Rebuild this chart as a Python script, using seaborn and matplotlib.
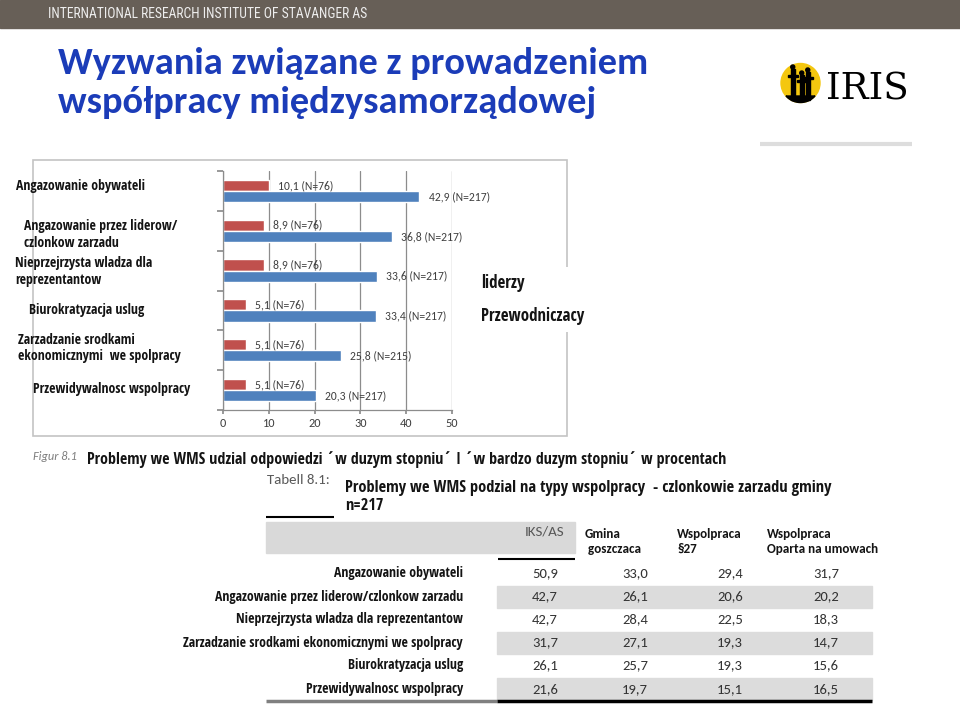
import numpy as np
import pandas as pd
import matplotlib
matplotlib.use('Agg')
import matplotlib.pyplot as plt
from matplotlib import font_manager as fm
from matplotlib.patches import Rectangle, Circle, Polygon
import seaborn as sns

# ---------------- data ----------------
chart_categories = [
    'Angazowanie obywateli',
    'Angazowanie przez liderow/czlonkow zarzadu',
    'Nieprzejrzysta wladza dla reprezentantow',
    'Biurokratyzacja uslug',
    'Zarzadzanie srodkami ekonomicznymi we spolpracy',
    'Przewidywalnosc wspolpracy',
]
chart_label_text = [
    'Angazowanie obywateli',
    'Angazowanie przez liderow/\nczlonkow zarzadu',
    'Nieprzejrzysta wladza dla\nreprezentantow',
    'Biurokratyzacja uslug',
    'Zarzadzanie srodkami\nekonomicznymi  we spolpracy',
    'Przewidywalnosc wspolpracy',
]
przewodniczacy_pct = [10.1, 8.9, 8.9, 5.1, 5.1, 5.1]
przewodniczacy_n = [76, 76, 76, 76, 76, 76]
liderzy_pct = [42.9, 36.8, 33.6, 33.4, 25.8, 20.3]
liderzy_n = [217, 217, 217, 217, 215, 217]
series_names = ['Przewodniczacy', 'liderzy']
legend_labels = ['liderzy', 'Przewodniczacy']
x_ticks = [0, 10, 20, 30, 40, 50]

table_rows = [
    'Angazowanie obywateli',
    'Angazowanie przez liderow/czlonkow zarzadu',
    'Nieprzejrzysta wladza dla reprezentantow',
    'Zarzadzanie srodkami ekonomicznymi we spolpracy',
    'Biurokratyzacja uslug',
    'Przewidywalnosc wspolpracy',
]
table_header_first = 'IKS/AS'
table_headers = [('Gmina', ' goszczaca'), ('Wspolpraca', '§27'), ('Wspolpraca', 'Oparta na umowach')]
col_iks_as = [50.9, 42.7, 42.7, 31.7, 26.1, 21.6]
col_gmina = [33.0, 26.1, 28.4, 27.1, 25.7, 19.7]
col_par27 = [29.4, 20.6, 22.5, 19.3, 19.3, 15.1]
col_umowy = [31.7, 20.2, 18.3, 14.7, 15.6, 16.5]

header_text = 'INTERNATIONAL RESEARCH INSTITUTE OF STAVANGER AS'
title_lines = ['Wyzwania związane z prowadzeniem', 'współpracy międzysamorządowej']
figure_tag = 'Figur 8.1'
figure_caption = 'Problemy we WMS udzial odpowiedzi \u00b4w duzym stopniu\u00b4 I \u00b4w bardzo duzym stopniu\u00b4 w procentach'
table_tag = 'Tabell 8.1:'
table_title = ['Problemy we WMS podzial na typy wspolpracy  - czlonkowie zarzadu gminy', 'n=217']


def fmt(v):
    return f'{v:.1f}'.replace('.', ',')


# ---------------- style ----------------
sns.set_theme(style='white')
names = {f.name for f in fm.fontManager.ttflist}


def pick(*cands):
    for c in cands:
        if c in names:
            return c
    return 'DejaVu Sans'


SANS = pick('Carlito', 'Lato', 'Open Sans')
SQZ = pick('Open Sans Condensed', 'Fira Sans Condensed', 'Roboto Condensed', 'Carlito')
COND = pick('Roboto Condensed', 'Liberation Sans Narrow', 'Roboto')
SERIF = pick('DejaVu Serif', 'Liberation Serif')
plt.rcParams['font.family'] = [SANS, 'DejaVu Sans']

RED = '#c0504d'
BLUE = '#4f81bd'
TITLE_BLUE = '#1b3cb8'
INK = '#141414'

W, H = 960, 704
fig = plt.figure(figsize=(9.6, 7.04), dpi=100)
fig.patch.set_facecolor('white')
bg = fig.add_axes([0, 0, 1, 1], zorder=0)
bg.set_xlim(0, W)
bg.set_ylim(H, 0)
bg.axis('off')
renderer = fig.canvas.get_renderer()


def fit_size(s, width, size=10, family=None, **kw):
    t = bg.text(0, 0, s, fontsize=size, family=[family or SANS, 'DejaVu Sans'], **kw)
    bb = t.get_window_extent(renderer)
    t.remove()
    return size * width / bb.width


def txt(x, y, s, size=10, family=None, width=None, **kw):
    fam = [family or SANS, 'DejaVu Sans']
    if width:
        size = fit_size(s, width, size, family, **{k: v for k, v in kw.items() if k in ('weight', 'style')})
    return bg.text(x, y, s, fontsize=size, family=fam, **kw)


# ---------------- header ----------------
bg.add_patch(Rectangle((0, 0), W, 28, color='#675f57', zorder=1))
txt(48, 14.5, header_text, family=COND, width=319, color='#eeeeee', va='center', zorder=2)

ts = fit_size(title_lines[0], 589, weight='bold')
txt(58, 74, title_lines[0], size=ts, weight='bold', color=TITLE_BLUE, va='baseline')
txt(58, 113, title_lines[1], size=ts, weight='bold', color=TITLE_BLUE, va='baseline')

# IRIS logo
cx, cy, r = 800.5, 83, 19.5
bg.add_patch(Circle((cx, cy), r, color='#f4c70f', zorder=2))
th = np.linspace(np.arcsin(13 / r), np.pi - np.arcsin(13 / r), 40)
bg.add_patch(Polygon(np.c_[cx + r * np.cos(th), cy + r * np.sin(th)], closed=True, color='black', zorder=3))
for bx, top, gy in [(791, 69, 75), (800, 75, 80), (806, 72, 77)]:
    bg.add_patch(Rectangle((bx, top), 3.5, 100 - top, color='black', zorder=3))
    bg.add_patch(Rectangle((bx - 3, gy), 9.5, 2, color='black', zorder=3))
    bg.add_patch(Circle((bx + 1.75, top - 2), 2, color='black', zorder=3))
txt(826, 99, 'IRIS', family=SERIF, width=82, color='black', va='baseline')
bg.plot([760, 912], [144, 144], color='#dddddd', lw=3, solid_capstyle='butt')

# ---------------- chart box ----------------
bg.add_patch(Rectangle((33, 160), 534, 276, facecolor='white', edgecolor='#c4c4c4', lw=1.2, zorder=1))
bg.add_patch(Rectangle((558, 267), 35, 65, facecolor='white', edgecolor='none', zorder=1.5))

ax = fig.add_axes([223 / W, 1 - 410 / H, 229 / W, 239 / H], zorder=2)
ax.patch.set_alpha(0)
df = pd.DataFrame({
    'kategoria': chart_categories * 2,
    'grupa': [series_names[0]] * len(chart_categories) + [series_names[1]] * len(chart_categories),
    'wartosc': przewodniczacy_pct + liderzy_pct,
})
sns.barplot(data=df, x='wartosc', y='kategoria', hue='grupa', hue_order=series_names,
            palette=[RED, BLUE], orient='h', width=0.56, saturation=1, ax=ax, legend=False)

lab_fs = fit_size('42,9 (N=217)', 61)
for cont, vals, ns in zip(ax.containers, [przewodniczacy_pct, liderzy_pct], [przewodniczacy_n, liderzy_n]):
    ax.bar_label(cont, labels=[f'{fmt(v)} (N={n})' for v, n in zip(vals, ns)], padding=6.5,
                 fontsize=lab_fs, color='#404040', family=[SANS, 'DejaVu Sans'])

ax.set_xlim(0, 50)
ax.set_xticks(x_ticks)
ax.set_xticklabels([str(t) for t in x_ticks])
ax.set_ylim(len(chart_categories) - 0.5, -0.5)
ax.set_yticks(np.arange(-0.5, len(chart_categories), 1))
ax.set_yticklabels([])
ax.set_xlabel('')
ax.set_ylabel('')
ax.grid(axis='x', color='#8c8c8c', lw=0.9)
ax.grid(axis='y', visible=False)
ax.set_axisbelow(True)
for s in ['top', 'right']:
    ax.spines[s].set_visible(False)
for s in ['left', 'bottom']:
    ax.spines[s].set_color('#8c8c8c')
    ax.spines[s].set_linewidth(0.9)
ax.tick_params(axis='y', length=4, color='#8c8c8c', direction='out', left=True)
ax.tick_params(axis='x', length=3, color='#8c8c8c', direction='out', bottom=True,
               labelsize=lab_fs * 1.05, labelcolor='#404040', pad=3)

# category labels on the left (squeezed bold text)
cl_fs = fit_size('Przewidywalnosc wspolpracy', 157, family=SQZ, weight='bold')
label_pos = [(16, 186), (24, 234.5), (15, 271.5), (29, 310), (18.5, 348), (33, 389)]
for (x, y), s in zip(label_pos, chart_label_text):
    txt(x, y, s, size=cl_fs, family=SQZ, weight='bold', color=INK, va='center', linespacing=1.2, zorder=3)

# legend text
lg_fs = fit_size('Przewodniczacy', 103, family=SQZ, weight='bold')
txt(481, 283, legend_labels[0], size=lg_fs, family=SQZ, weight='bold', color=INK, va='center', zorder=3)
txt(481, 316, legend_labels[1], size=lg_fs, family=SQZ, weight='bold', color=INK, va='center', zorder=3)

# ---------------- captions ----------------
txt(33, 456, figure_tag, width=44, style='italic', color='#7f7f7f', va='center')
txt(87, 460, figure_caption, family=SQZ, width=637, weight='bold', color=INK, va='center')

txt(267, 480, table_tag, width=63, color='#595959', va='center')
tt_fs = fit_size(table_title[0], 485, family=SQZ, weight='bold')
txt(345, 488, table_title[0], size=tt_fs, family=SQZ, weight='bold', color=INK, va='center')
txt(345, 506, table_title[1], size=tt_fs, family=SQZ, weight='bold', color=INK, va='center')

# ---------------- table ----------------
bg.plot([266, 334], [517, 517], color='black', lw=1.5, solid_capstyle='butt')
bg.add_patch(Rectangle((266, 522), 309, 31, color='#d9d9d9', zorder=1))
bg.plot([498, 575], [559, 559], color='black', lw=1.5, solid_capstyle='butt')
txt(545, 531, table_header_first, width=40, color='#595959', ha='center', va='center', zorder=2)

hd_fs = fit_size('Oparta na umowach', 111, weight='bold')
for (l1, l2), x in zip(table_headers, [585, 677, 767]):
    txt(x, 534, l1, size=hd_fs, weight='bold', color=INK, va='center')
    txt(x, 549, l2, size=hd_fs, weight='bold', color=INK, va='center')

row_y = [573, 596.5, 619, 642.5, 665, 689]
for i in [1, 3, 5]:
    bg.add_patch(Rectangle((497, row_y[i] - 11), 375, 22, color='#dcdcdc', zorder=1))

rl_fs = fit_size('Zarzadzanie srodkami ekonomicznymi we spolpracy', 278, family=SQZ, weight='bold')
val_fs = fit_size('50,9', 26)
col_x = [545, 635, 730, 826]
for i, lab in enumerate(table_rows):
    txt(463, row_y[i], lab, size=rl_fs, family=SQZ, weight='bold', color=INK, ha='right', va='center', zorder=2)
    for x, col in zip(col_x, [col_iks_as, col_gmina, col_par27, col_umowy]):
        txt(x, row_y[i], fmt(col[i]), size=val_fs, color='#333333', ha='center', va='center', zorder=2)

bg.plot([266, 497], [701, 701], color='#808080', lw=2.5, solid_capstyle='butt')
bg.plot([497, 872], [701, 701], color='black', lw=2.5, solid_capstyle='butt')

fig.savefig('out.png', dpi=100)
